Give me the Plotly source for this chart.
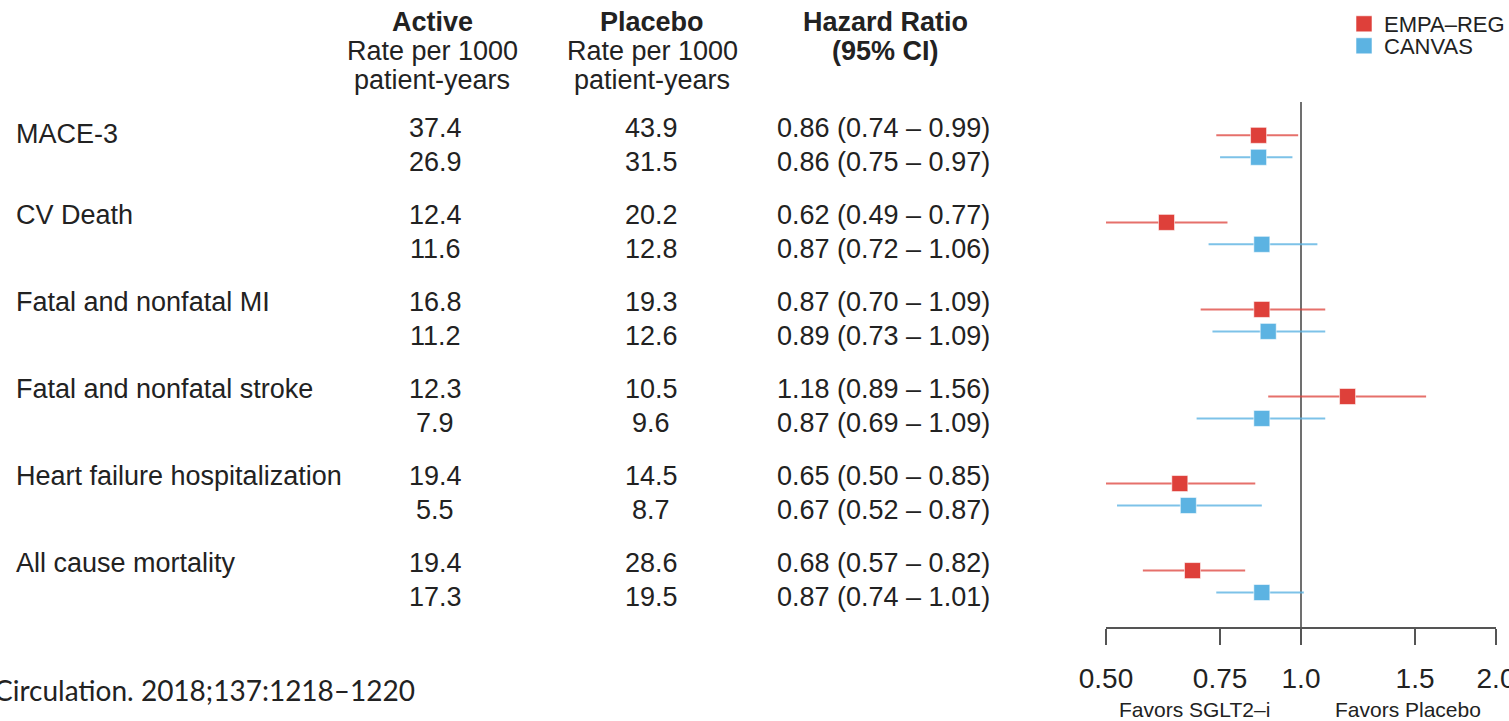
import plotly.graph_objects as go

W, H = 1509, 721

outcomes = ["MACE-3", "CV Death", "Fatal and nonfatal MI", "Fatal and nonfatal stroke",
            "Heart failure hospitalization", "All cause mortality"]

# EMPA-REG OUTCOME: event rates per 1000 patient-years and hazard ratios
empa_active = [37.4, 12.4, 16.8, 12.3, 19.4, 19.4]
empa_placebo = [43.9, 20.2, 19.3, 10.5, 14.5, 28.6]
empa_hr = [0.86, 0.62, 0.87, 1.18, 0.65, 0.68]
empa_lo = [0.74, 0.49, 0.70, 0.89, 0.50, 0.57]
empa_hi = [0.99, 0.77, 1.09, 1.56, 0.85, 0.82]

# CANVAS program
canvas_active = [26.9, 11.6, 11.2, 7.9, 5.5, 17.3]
canvas_placebo = [31.5, 12.8, 12.6, 9.6, 8.7, 19.5]
canvas_hr = [0.86, 0.87, 0.89, 0.87, 0.67, 0.87]
canvas_lo = [0.75, 0.72, 0.73, 0.69, 0.52, 0.74]
canvas_hi = [0.97, 1.06, 1.09, 1.09, 0.87, 1.01]

tick_vals = [0.5, 0.75, 1.0, 1.5, 2.0]
tick_text = ["0.50", "0.75", "1.0", "1.5", "2.0"]

RED = "#DE403A"
BLUE = "#5CB3E2"
TXT = "#222222"
FONT = "Liberation Sans, Arial, Helvetica, sans-serif"


def px(x):
    return x / W


def py(y):
    return 1 - y / H


groups = list(range(len(outcomes)))
MARK_OFF = 0.126          # vertical offset of each study's marker within a group
ROW_OFF = (-0.21, 0.175)  # table rows (EMPA-REG, CANVAS) relative to group centre
LABEL_NUDGE = [0.07, 0, 0, 0, 0, 0]

fig = go.Figure()


def study_trace(name, hr, lo, hi, color, line_rgba, sign, legend):
    return go.Scatter(
        x=hr,
        y=[g + sign * MARK_OFF for g in groups],
        mode="markers",
        name=name,
        legend=legend,
        marker=dict(symbol="square", size=16, color=color,
                    line=dict(width=1, color="rgba(255,255,255,0.55)")),
        error_x=dict(type="data", symmetric=False,
                     array=[h - m for h, m in zip(hi, hr)],
                     arrayminus=[m - l for m, l in zip(hr, lo)],
                     width=0, thickness=2, color=line_rgba),
        hoverinfo="skip",
    )


fig.add_trace(study_trace("EMPA\u2013REG", empa_hr, empa_lo, empa_hi, RED,
                          "rgba(222,64,58,0.75)", -1, "legend"))
fig.add_trace(study_trace("CANVAS", canvas_hr, canvas_lo, canvas_hi, BLUE,
                          "rgba(92,179,226,0.8)", +1, "legend2"))

# line of no effect
fig.add_shape(type="line", xref="x", yref="y domain", x0=1, x1=1, y0=0, y1=1,
              line=dict(color="#707070", width=2), layer="below")

ann = []


def text(x, y, s, size=27, bold=False, anchor="center", yref="paper", fam=FONT):
    ann.append(dict(
        x=x, y=y, xref="paper", yref=yref, text=f"<b>{s}</b>" if bold else s,
        showarrow=False, xanchor=anchor, yanchor="middle",
        font=dict(family=fam, size=size, color=TXT),
    ))


# column headers
text(px(432), py(22), "Active", bold=True)
text(px(432), py(51), "Rate per 1000")
text(px(432), py(80), "patient-years")
text(px(652), py(22), "Placebo", bold=True)
text(px(652), py(51), "Rate per 1000")
text(px(652), py(80), "patient-years")
text(px(885), py(22), "Hazard Ratio", bold=True)
text(px(885), py(51), "(95% CI)", bold=True)

# table body
for g, name in zip(groups, outcomes):
    text(px(14), g + ROW_OFF[0] + LABEL_NUDGE[g], name, anchor="left", yref="y")
    rows = [
        (ROW_OFF[0], empa_active[g], empa_placebo[g], empa_hr[g], empa_lo[g], empa_hi[g]),
        (ROW_OFF[1], canvas_active[g], canvas_placebo[g], canvas_hr[g], canvas_lo[g], canvas_hi[g]),
    ]
    for off, a, p, h, l, u in rows:
        yy = g + off
        text(px(435), yy, f"{a:.1f}", yref="y")
        text(px(651), yy, f"{p:.1f}", yref="y")
        text(px(775), yy, f"{h:.2f} ({l:.2f} \u2013 {u:.2f})", anchor="left", yref="y")

# axis direction labels
text(px(1194), py(709), "Favors SGLT2\u2013i", size=21)
text(px(1408), py(709), "Favors Placebo", size=21)

# source
text(px(-8), py(690), "Circulation. 2018;137:1218\u20131220", size=28, anchor="left",
     fam="Lato, Carlito, Calibri, sans-serif")

legend_style = dict(xanchor="left", yanchor="top",
                    font=dict(family=FONT, size=22, color=TXT),
                    bgcolor="rgba(0,0,0,0)", itemwidth=30)

fig.update_layout(
    width=W, height=H,
    margin=dict(l=0, r=0, t=0, b=0, autoexpand=False),
    paper_bgcolor="white", plot_bgcolor="white",
    annotations=ann,
    showlegend=True,
    legend=dict(x=px(1344), y=py(3), **legend_style),
    legend2=dict(x=px(1344), y=py(25), **legend_style),
    xaxis=dict(
        type="log", domain=[px(1106), px(1496)],
        range=[-0.30103, 0.30103],
        tickvals=tick_vals, ticktext=tick_text,
        ticks="outside", ticklen=16, tickwidth=1.5, tickcolor="#555555",
        showline=True, linecolor="#555555", linewidth=1.5,
        showgrid=False, zeroline=False,
        tickfont=dict(family=FONT, size=28, color=TXT),
        ticklabelstandoff=10,
        ticklabeloverflow="allow",
        automargin=False,
        fixedrange=True,
    ),
    yaxis=dict(
        domain=[py(627), py(102)],
        range=[5.522, -0.509],
        visible=False, showgrid=False, zeroline=False,
        automargin=False,
        fixedrange=True,
    ),
)

fig.write_html("out.html")
